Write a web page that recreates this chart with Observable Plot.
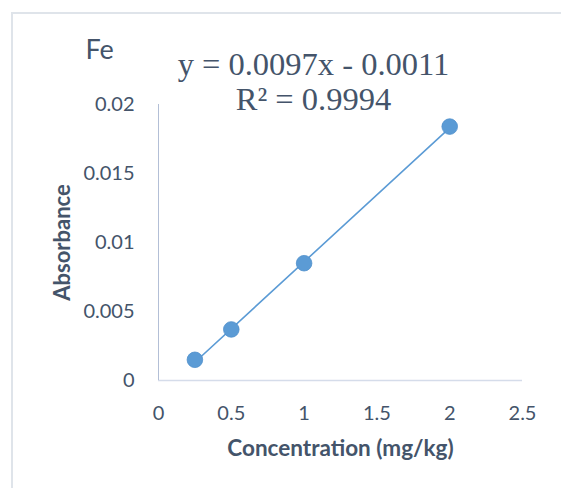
<!DOCTYPE html>
<html>
<head>
<meta charset="utf-8">
<script src="https://cdn.jsdelivr.net/npm/d3@7"></script>
<script src="https://cdn.jsdelivr.net/npm/@observablehq/plot@0.6"></script>
<style>
  html, body { margin: 0; padding: 0; background: #fff; }
  #wrap { position: relative; width: 561px; height: 488px; overflow: hidden; }
  #border {
    position: absolute; left: 11px; top: 12px; width: 600px; height: 600px;
    border-left: 2px solid #dfe4ea; border-top: 2px solid #dfe4ea;
    box-sizing: border-box; pointer-events: none;
  }
  #wrap svg { position: absolute; left: 0; top: 0; }
</style>
</head>
<body>
<div id="wrap"><div id="border"></div></div>
<script>
// Fe calibration standards
const concentration = [0.25, 0.5, 1, 2];          // mg/kg
const absorbance = [0.0015, 0.0037, 0.0085, 0.0184];

// Linear trendline reported on the chart
const slope = 0.0097;
const intercept = -0.0011;
const rSquared = 0.9994;

const xTicks = [0, 0.5, 1, 1.5, 2, 2.5];
const yTicks = [0, 0.005, 0.01, 0.015, 0.02];

const points = concentration.map((c, i) => ({x: c, y: absorbance[i]}));
const xExtent = d3.extent(concentration);
const trend = xExtent.map(x => ({x, y: slope * x + intercept}));

const ink = "#44546a";
const blue = "#5b9bd5";
const sans = "Lato, 'Open Sans', sans-serif";
const serif = "'Liberation Serif', 'DejaVu Serif', serif";

const equation = `y = ${slope}x - ${Math.abs(intercept)}\nR² = ${rSquared}`;

const chart = Plot.plot({
  width: 561,
  height: 488,
  marginLeft: 158,
  marginRight: 39,
  marginTop: 104,
  marginBottom: 108,
  style: {background: "transparent", fontFamily: sans, color: ink},
  x: {domain: [0, 2.5]},
  y: {domain: [0, 0.02]},
  marks: [
    Plot.ruleY([0], {stroke: "#d5dcea", strokeWidth: 1.5}),
    Plot.ruleX([0], {stroke: "#b3bfd6", strokeWidth: 1}),
    Plot.axisX(xTicks, {
      tickSize: 0, tickPadding: 25, fontSize: 20, fill: ink, label: null,
      tickFormat: d => String(d)
    }),
    Plot.axisY(yTicks, {
      tickSize: 0, tickPadding: 24, fontSize: 20, fill: ink, label: null,
      tickFormat: d => String(d)
    }),
    Plot.line(trend, {x: "x", y: "y", stroke: blue, strokeWidth: 1.6}),
    Plot.dot(points, {x: "x", y: "y", r: 7.8, fill: blue, stroke: "#4f8fcb", strokeWidth: 0.8}),
    // Chart title
    Plot.text(["Fe"], {
      frameAnchor: "top-left", textAnchor: "start", lineAnchor: "top",
      dx: -73, dy: -65, fontSize: 27, fill: ink, fontFamily: sans
    }),
    // Trendline equation and R²
    Plot.text([equation], {
      frameAnchor: "top", textAnchor: "middle", lineAnchor: "top",
      dx: -27, dy: -55, fontSize: 32.5, lineHeight: 1.086, fill: ink, fontFamily: serif
    }),
    // Axis titles
    Plot.text(["Concentration (mg/kg)"], {
      frameAnchor: "bottom", textAnchor: "middle", lineAnchor: "top",
      dy: 60, fontSize: 22.5, fontWeight: "bold", fill: ink, fontFamily: sans
    }),
    Plot.text(["Absorbance"], {
      frameAnchor: "left", textAnchor: "middle", lineAnchor: "middle",
      rotate: -90, dx: -96, fontSize: 22, fontWeight: "bold", fill: ink, fontFamily: sans
    })
  ]
});

document.getElementById("wrap").appendChild(chart);
</script>
</body>
</html>
